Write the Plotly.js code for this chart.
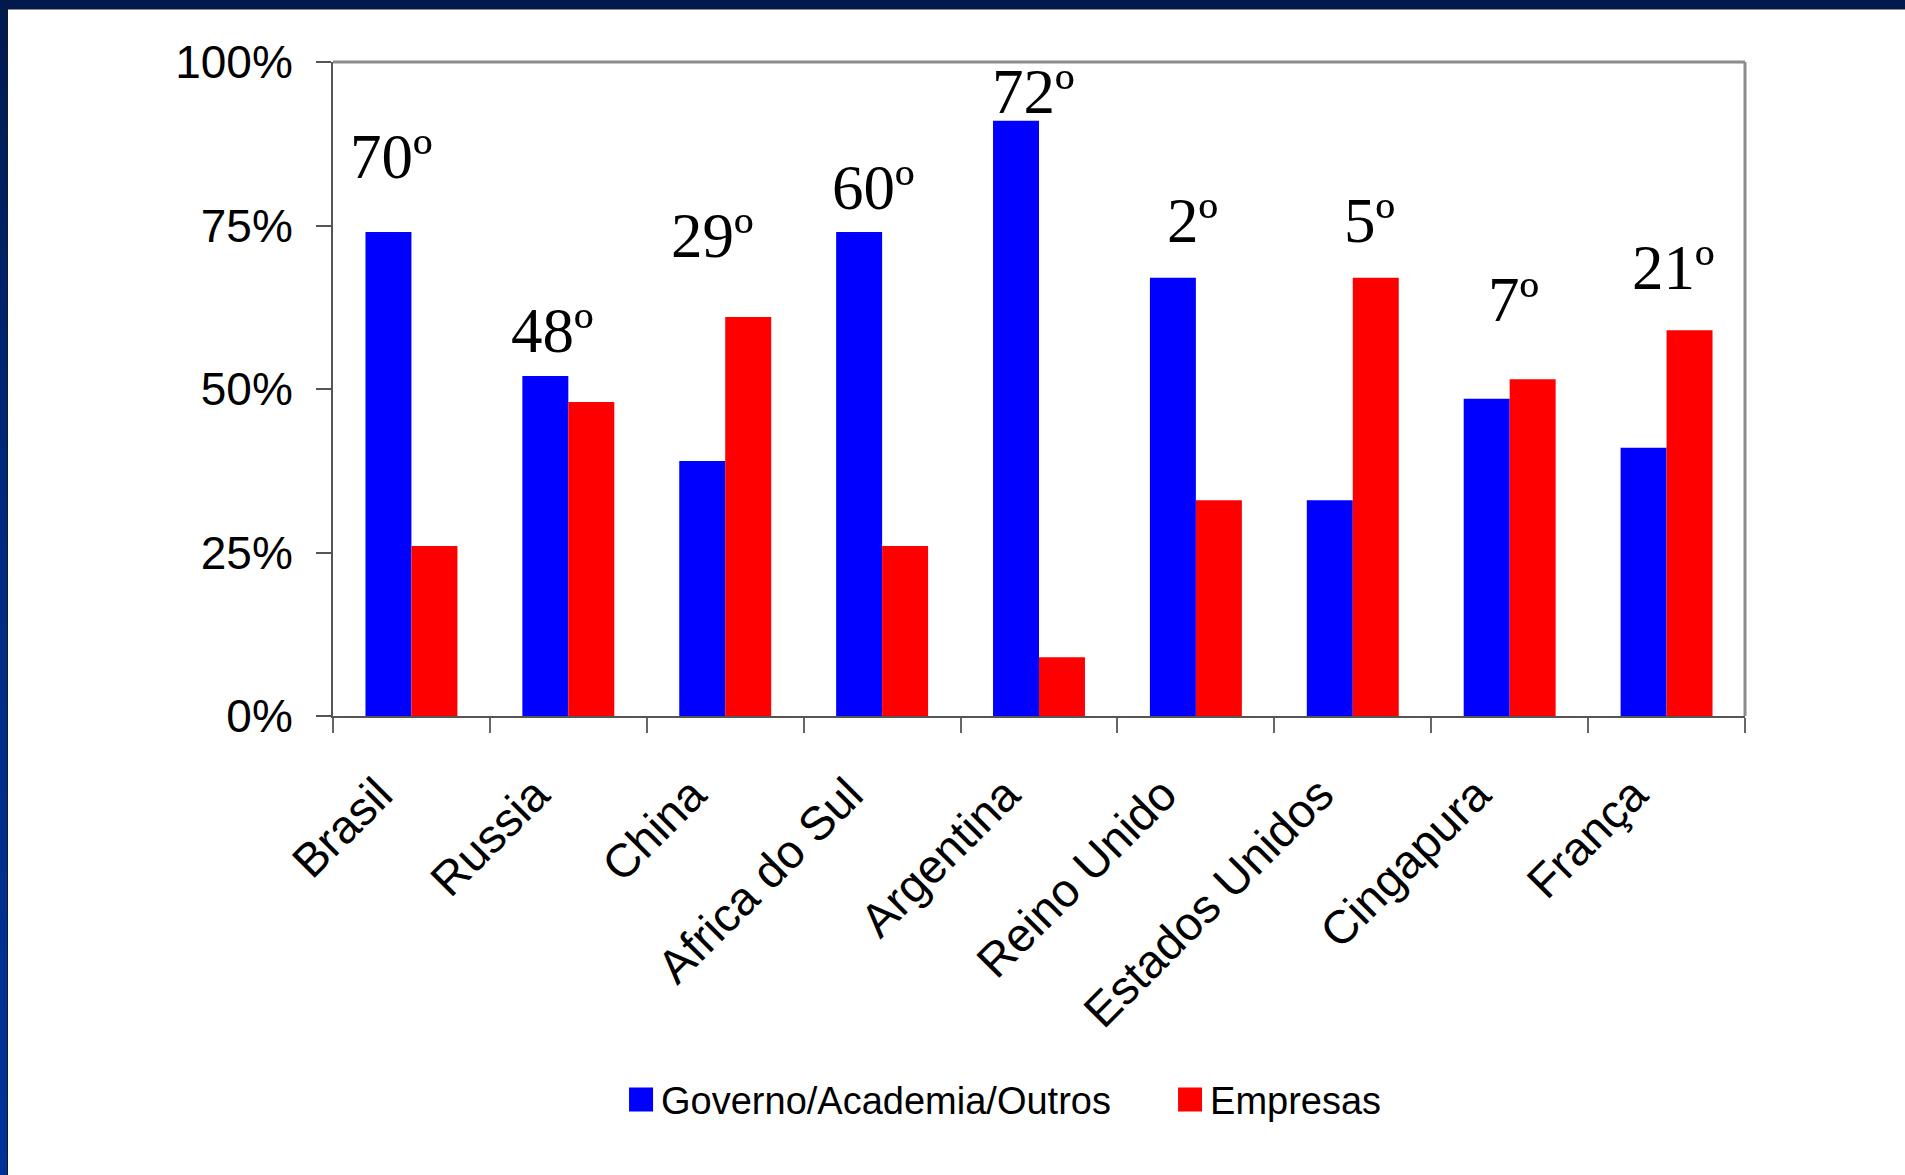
<!DOCTYPE html>
<html>
<head>
<meta charset="utf-8">
<script src="https://cdn.plot.ly/plotly-3.0.1.min.js"></script>
<style>
  html, body { margin: 0; padding: 0; background: #ffffff; overflow: hidden; }
  #wrap { position: relative; width: 1905px; height: 1175px; }
  #chart { position: absolute; left: 0; top: 0; width: 1905px; height: 1175px; }
  #topbar { position: absolute; left: 0; top: 0; width: 1905px; height: 9px; background: #001a4d; border-bottom: 1px solid #8a8a8a; z-index: 5; }
  #leftbar { position: absolute; left: 0; top: 0; width: 7px; height: 1175px; background: linear-gradient(to bottom, #001a4d 0%, #002a80 45%, #003399 100%); border-right: 1px solid #111a33; z-index: 6; }
</style>
</head>
<body>
<div id="wrap">
  <div id="chart"></div>
  <div id="topbar"></div>
  <div id="leftbar"></div>
</div>
<script>
// ---- data ----
const categorias = ['Brasil', 'Russia', 'China', 'Africa do Sul', 'Argentina', 'Reino Unido', 'Estados Unidos', 'Cingapura', 'França'];
const governo = [0.74, 0.52, 0.39, 0.74, 0.91, 0.67, 0.33, 0.485, 0.41];
const empresas = [0.26, 0.48, 0.61, 0.26, 0.09, 0.33, 0.67, 0.515, 0.59];
const ranking = ['70º', '48º', '29º', '60º', '72º', '2º', '5º', '7º', '21º'];
const rankY = [0.821, 0.555, 0.700, 0.774, 0.920, 0.723, 0.723, 0.602, 0.651];
const rankShift = [-20, -16, -13, -9, -6, -3, 17, 4, 7];
const yTicks = [0, 0.25, 0.5, 0.75, 1];
const serieNomes = ['Governo/Academia/Outros', 'Empresas'];

const sans = 'Liberation Sans, Arial, sans-serif';
const serif = 'Liberation Serif, Times New Roman, serif';

const traces = [
  { type: 'bar', name: serieNomes[0], x: categorias, y: governo,
    marker: { color: '#0000ff', line: { width: 0 } }, hoverinfo: 'skip' },
  { type: 'bar', name: serieNomes[1], x: categorias, y: empresas,
    marker: { color: '#ff0000', line: { width: 0 } }, hoverinfo: 'skip' }
];

const annotations = categorias.map((c, i) => ({
  x: c, y: rankY[i], xref: 'x', yref: 'y', text: ranking[i],
  showarrow: false, xanchor: 'center', yanchor: 'bottom',
  xshift: rankShift[i], yshift: -15,
  font: { family: serif, size: 63, color: '#000000' }
}));

const layout = {
  width: 1905, height: 1175,
  margin: { l: 333, r: 160, t: 62, b: 459, pad: 0 },
  paper_bgcolor: '#ffffff', plot_bgcolor: '#ffffff',
  barmode: 'group', bargap: 0.414, bargroupgap: 0,
  showlegend: true,
  legend: {
    orientation: 'h', x: 0.204, xanchor: 'left', y: -0.587, yanchor: 'middle',
    font: { family: sans, size: 38, color: '#000000' },
    traceorder: 'normal', bgcolor: 'rgba(0,0,0,0)',
    entrywidth: 504, entrywidthmode: 'pixels'
  },
  xaxis: {
    type: 'category', range: [-0.5, 8.5], tickangle: -45,
    tickson: 'boundaries', ticks: 'outside', ticklen: 15, tickwidth: 2, tickcolor: '#666666',
    showline: true, linecolor: '#555555', linewidth: 2,
    showgrid: false, zeroline: false,
    ticklabelstandoff: 30, ticklabelshift: -33,
    tickfont: { family: sans, size: 47, color: '#000000' }
  },
  yaxis: {
    range: [0, 1], tickvals: yTicks, tickformat: '.0%',
    ticks: 'outside', ticklen: 15, tickwidth: 2, tickcolor: '#555555',
    showline: true, linecolor: '#555555', linewidth: 2,
    showgrid: false, zeroline: false, ticklabelstandoff: 14,
    tickfont: { family: sans, size: 46, color: '#000000' }
  },
  shapes: [
    { type: 'line', xref: 'paper', yref: 'paper', x0: 0, x1: 1, y0: 1, y1: 1, line: { color: '#8c8c8c', width: 3 } },
    { type: 'line', xref: 'paper', yref: 'paper', x0: 1, x1: 1, y0: 0, y1: 1, line: { color: '#8c8c8c', width: 3 } }
  ],
  annotations: annotations
};

Plotly.newPlot('chart', traces, layout, { displayModeBar: false, staticPlot: true }).then(() => {
  document.querySelectorAll('.legend .legendpoints path').forEach(p => {
    p.setAttribute('d', 'M12,12H-12V-12H12Z');
  });
});
</script>
</body>
</html>
